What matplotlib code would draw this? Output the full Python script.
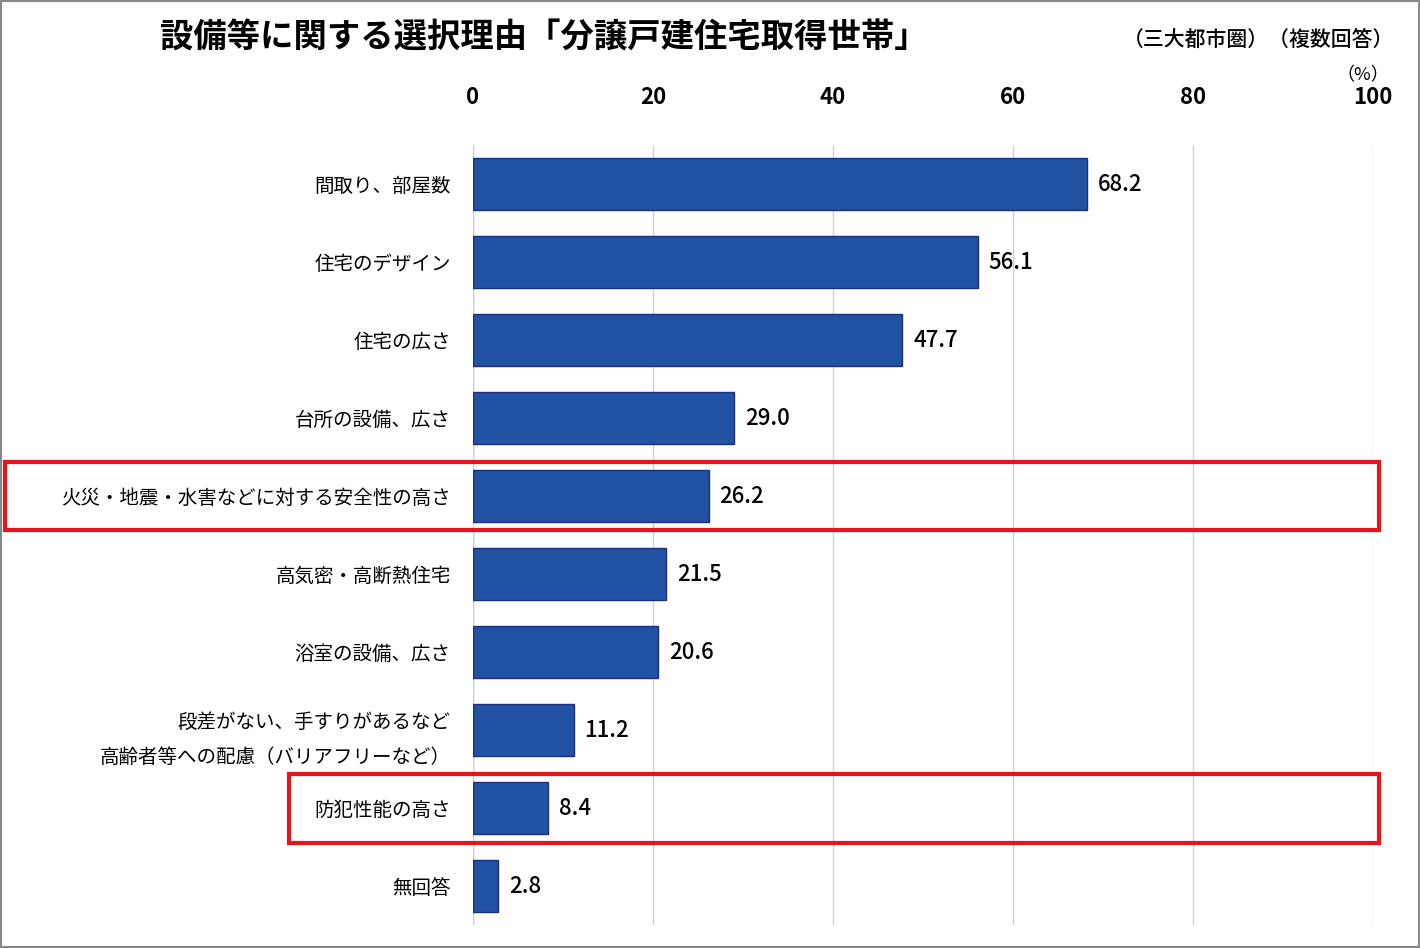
import matplotlib.pyplot as plt
from matplotlib.patches import Rectangle

plt.rcParams['font.family'] = ['Noto Sans CJK JP', 'DejaVu Sans']

categories = ['間取り、部屋数', '住宅のデザイン', '住宅の広さ', '台所の設備、広さ',
              '火災・地震・水害などに対する安全性の高さ', '高気密・高断熱住宅',
              '浴室の設備、広さ', '段差がない、手すりがあるなど\n高齢者等への配慮（バリアフリーなど）',
              '防犯性能の高さ', '無回答']
values = [68.2, 56.1, 47.7, 29.0, 26.2, 21.5, 20.6, 11.2, 8.4, 2.8]
highlighted = [4, 8]

fig = plt.figure(figsize=(14.2, 9.48), dpi=100)
ax = fig.add_axes([0.333, 0.024, 0.634, 0.823])

y = range(len(categories))
ax.barh(y, values, height=0.66, color='#2152a3', edgecolor='#1a2f80', linewidth=1, zorder=3)
for i, v in enumerate(values):
    ax.text(v + 1.2, i, f'{v:.1f}', va='center', ha='left', fontsize=16, fontweight='medium')

ax.set_xlim(0, 100)
ax.set_ylim(len(categories) - 0.5, -0.5)
ax.set_xticks(range(0, 101, 20))
ax.xaxis.tick_top()
ax.tick_params(axis='x', length=0, labelsize=16, pad=26)
for lab in ax.get_xticklabels():
    lab.set_fontweight('bold')
ax.set_yticks(list(y))
ax.set_yticklabels(categories, fontsize=14, linespacing=1.9)
ax.tick_params(axis='y', length=0, pad=16)
ax.grid(axis='x', color='#d0d0d0', linewidth=1, zorder=0)
for s in ax.spines.values():
    s.set_visible(False)
ax.axvline(0, color='#c8c8c8', linewidth=1, zorder=1)

# red highlight boxes
ax.add_patch(Rectangle((-52, 4 - 0.44), 152.6, 0.88, fill=False, edgecolor='#e8141c',
                       linewidth=3, clip_on=False, zorder=5))
ax.add_patch(Rectangle((-20.4, 8 - 0.44), 121, 0.88, fill=False, edgecolor='#e8141c',
                       linewidth=3, clip_on=False, zorder=5))

fig.text(0.113, 0.96, '設備等に関する選択理由「分譲戸建住宅取得世帯」', fontsize=24,
         fontweight='bold', va='center', ha='left')
fig.text(0.982, 0.958, '（三大都市圏）（複数回答）', fontsize=15, fontweight='medium',
         va='center', ha='right')
fig.text(0.978, 0.921, '（%）', fontsize=13, va='center', ha='right')

fig.patches.append(Rectangle((0.001, 0.001), 0.998, 0.998, transform=fig.transFigure,
                             fill=False, edgecolor='#888888', linewidth=1.5))

fig.savefig('out.png', dpi=100)
